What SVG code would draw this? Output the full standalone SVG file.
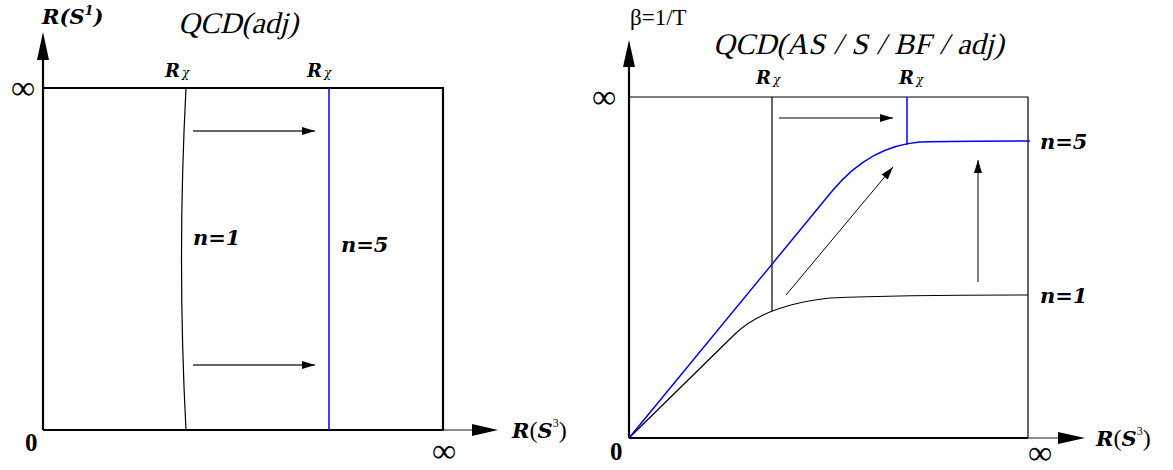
<svg xmlns="http://www.w3.org/2000/svg" width="1173" height="470" viewBox="0 0 1173 470">
<defs>
<marker id="ah" markerWidth="14" markerHeight="10" refX="13" refY="4" orient="auto" markerUnits="userSpaceOnUse">
<path d="M0,0 L13,4 L0,8 Z" fill="#000"/>
</marker>
<style>
.ax{stroke:#000;stroke-width:2.2;fill:none}
.thin{stroke:#000;stroke-width:1.2;fill:none}
.ext{stroke:#444;stroke-width:1.2;fill:none}
.blue{stroke:#0000ff;stroke-width:1.5;fill:none}
.garr{stroke:#666;stroke-width:2;fill:none;marker-end:url(#ah)}
.barr{stroke:#000;stroke-width:1;fill:none;marker-end:url(#ah)}
text{font-family:'Liberation Serif','DejaVu Serif',serif;fill:#000}
.lab{font-family:'DejaVu Serif',serif;font-weight:bold;font-style:italic;font-size:21px}
.ttl{font-family:'Liberation Serif',serif;font-style:normal;font-weight:normal;font-size:30px}
.inf{font-size:34px}
.rm{font-size:23px}
.rx{font-family:'DejaVu Serif',serif;font-weight:bold;font-style:italic;font-size:18px}
.chi{font-family:'DejaVu Serif',serif;font-weight:normal;font-size:12px}
.zero{font-weight:bold;font-size:25px}
.up{font-family:'Liberation Serif',serif;font-weight:normal;font-style:normal}
</style>
</defs>

<!-- Left panel -->
<g id="left-axes">
<path class="ax" d="M43,430 V56"/>
<polygon points="43,32 37,60 49,60" fill="#000"/>
<path class="ax" d="M43,88 H443 V430 H43"/>
<path class="ext" d="M443,430 H475"/>
<polygon points="498,430 472,424 472,436" fill="#000"/>
<text class="inf" x="11" y="99">∞</text>
<text class="inf" x="432" y="462">∞</text>
<text class="zero" x="25" y="451">0</text>
<text class="lab" x="512" y="438">R<tspan class="up" font-size="24">(</tspan>S<tspan class="up" font-size="12" dy="-11">3</tspan><tspan class="up" font-size="24" dy="11">)</tspan></text>
<text class="lab" x="42" y="24">R(S<tspan font-size="13" dy="-9">1</tspan><tspan dy="9">)</tspan></text>
<text class="ttl" transform="translate(178,33) skewX(-14)">QCD(adj)</text>
</g>
<g id="left-n1">
<path class="thin" d="M186,88 Q177,260 186,430"/>
<text class="rx" x="165" y="77">R<tspan class="chi" dx="2">χ</tspan></text>
<text class="lab" x="193" y="245">n=1</text>
</g>
<g id="left-n5">
<path class="blue" d="M329,88 V430"/>
<text class="rx" x="307" y="77">R<tspan class="chi" dx="2">χ</tspan></text>
<text class="lab" x="341" y="252">n=5</text>
</g>

<!-- Right panel -->
<g id="right-axes">
<path class="ax" d="M629,438 V64"/>
<polygon points="629,40 623,67 635,67" fill="#000"/>
<path class="thin" d="M629,97 H1028 V438"/>
<path class="ax" d="M629,438 H1028"/>
<path class="ext" d="M1028,438 H1060"/>
<polygon points="1085,438 1058,432 1058,444" fill="#000"/>
<text class="inf" x="592" y="108">∞</text>
<text class="inf" x="1028" y="464">∞</text>
<text class="zero" x="610" y="460">0</text>
<text class="lab" x="1096" y="446">R<tspan class="up" font-size="24">(</tspan>S<tspan class="up" font-size="12" dy="-11">3</tspan><tspan class="up" font-size="24" dy="11">)</tspan></text>
<text class="rm" x="630" y="25">β=1/T</text>
<text class="ttl" transform="translate(713,54) skewX(-14)">QCD(AS<tspan dx="9">/</tspan><tspan dx="9">S</tspan><tspan dx="9">/</tspan><tspan dx="9">BF</tspan><tspan dx="9">/</tspan><tspan dx="9">adj)</tspan></text>
</g>
<g id="right-n1">
<path class="thin" d="M629,438 L735,334 Q765,305 830,298 Q900,295 1028,295"/>
<path class="thin" d="M772,97 V311"/>
<text class="rx" x="756" y="84">R<tspan class="chi" dx="2">χ</tspan></text>
<text class="lab" x="1040" y="303">n=1</text>
</g>
<g id="right-n5">
<path class="blue" d="M629,438 L833,190 Q870,146 920,142 Q960,141 1030,141"/>
<path class="blue" d="M907,97 V145"/>
<text class="rx" x="899" y="84">R<tspan class="chi" dx="2">χ</tspan></text>
<text class="lab" x="1040" y="149">n=5</text>
</g>

<!-- Connectors -->
<g id="connectors">
<path class="garr" d="M193,131 H315"/>
<path class="garr" d="M193,365 H315"/>
<path class="barr" d="M779,118 H893"/>
<path class="barr" d="M786,295 L893,167"/>
<path class="barr" d="M978,282 V160"/>
</g>
</svg>
